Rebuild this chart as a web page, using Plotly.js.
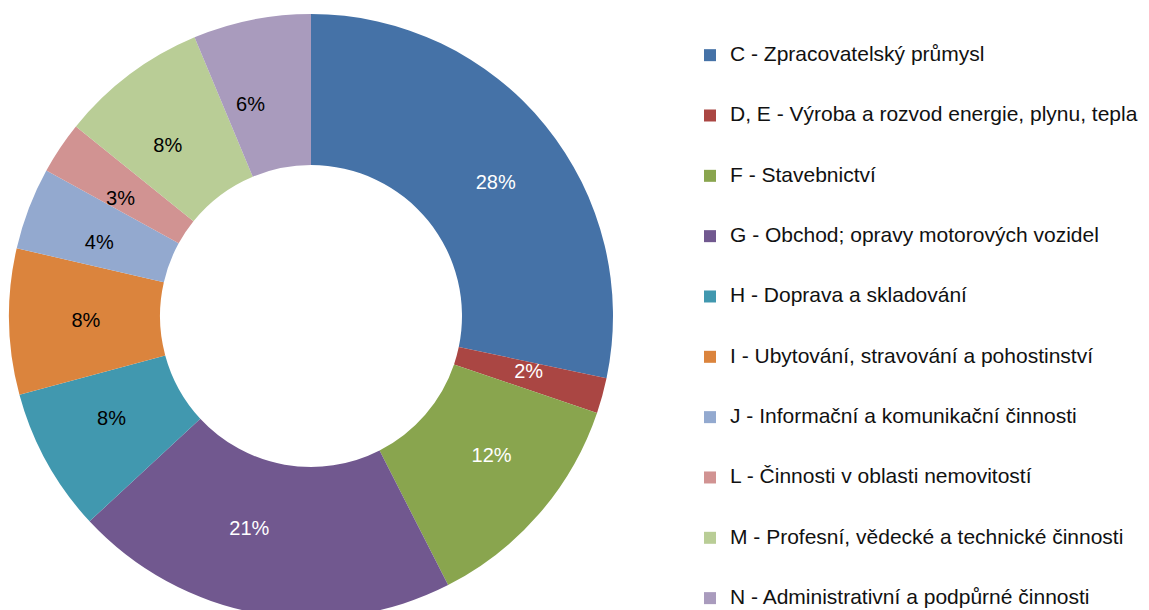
<!DOCTYPE html>
<html>
<head>
<meta charset="utf-8">
<script src="https://cdn.plot.ly/plotly-3.0.1.min.js"></script>
<style>
html, body { margin: 0; padding: 0; overflow: hidden; background: #fff; }
#chart { width: 1149px; height: 632px; }
</style>
</head>
<body>
<div id="chart"></div>
<script>
const categories = [
  "C - Zpracovatelský průmysl",
  "D, E - Výroba a rozvod energie, plynu, tepla",
  "F - Stavebnictví",
  "G - Obchod; opravy motorových vozidel",
  "H - Doprava a skladování",
  "I - Ubytování, stravování a pohostinství",
  "J - Informační a komunikační činnosti",
  "L - Činnosti v oblasti nemovitostí",
  "M - Profesní, vědecké a technické činnosti",
  "N - Administrativní a podpůrné činnosti"
];
const shares = [28.3, 1.9, 12.3, 20.6, 7.7, 7.8, 4.4, 2.8, 7.9, 6.3];
const colors = ["#4572A7", "#AA4643", "#89A54E", "#71588F", "#4198AF",
                "#DB843D", "#93A9CF", "#D19392", "#B9CD96", "#A99BBD"];
const labelColors = ["#ffffff", "#ffffff", "#ffffff", "#ffffff", "#000000",
                     "#000000", "#000000", "#000000", "#000000", "#000000"];

const FONT = 'Liberation Sans, Arial, sans-serif';
const W = 1149, H = 632, MT = 14, MB = 14;
const plotH = H - MT - MB;           // 604
const cxPx = 311;                    // donut centre (px)
const R = plotH / 2;                 // outer radius
const rLab = 205;                    // radius of the label ring helper

const legendLabels = categories.map(c =>
  '&nbsp;<br><span style="font-size:21px">' + c + '</span><br>&nbsp;');

const donut = {
  type: 'pie',
  labels: legendLabels,
  values: shares,
  hole: 0.5,
  sort: false,
  direction: 'clockwise',
  rotation: 0,
  marker: { colors: colors, line: { width: 0 } },
  textinfo: 'none',
  domain: { x: [(cxPx - R) / W, (cxPx + R) / W], y: [0, 1] },
  hoverinfo: 'label+percent'
};

// helper pie (transparent) that carries the percentage labels
const labelsTrace = {
  type: 'pie',
  labels: categories,
  values: shares,
  sort: false,
  direction: 'clockwise',
  rotation: 0,
  showlegend: false,
  marker: { colors: categories.map(() => 'rgba(0,0,0,0)'), line: { width: 0 } },
  texttemplate: '%{percent:.0%}',
  textposition: 'outside',
  automargin: false,
  outsidetextfont: { family: FONT, size: 20, color: labelColors },
  domain: { x: [(cxPx - rLab) / W, (cxPx + rLab) / W], y: [0.5 - rLab / plotH, 0.5 + rLab / plotH] },
  hoverinfo: 'skip'
};

const layout = {
  width: W,
  height: H,
  margin: { l: 0, r: 0, t: MT, b: MB, autoexpand: false },
  paper_bgcolor: '#ffffff',
  showlegend: true,
  font: { family: FONT, color: '#000000' },
  legend: {
    x: 690 / W,
    xanchor: 'left',
    y: 1 - 6 / plotH,
    yanchor: 'top',
    font: { size: 14.7, color: '#111111', family: FONT },
    maxheight: 1000,
    bgcolor: 'rgba(0,0,0,0)'
  }
};

Plotly.newPlot('chart', [donut, labelsTrace], layout, { displayModeBar: false, staticPlot: true });
</script>
</body>
</html>
